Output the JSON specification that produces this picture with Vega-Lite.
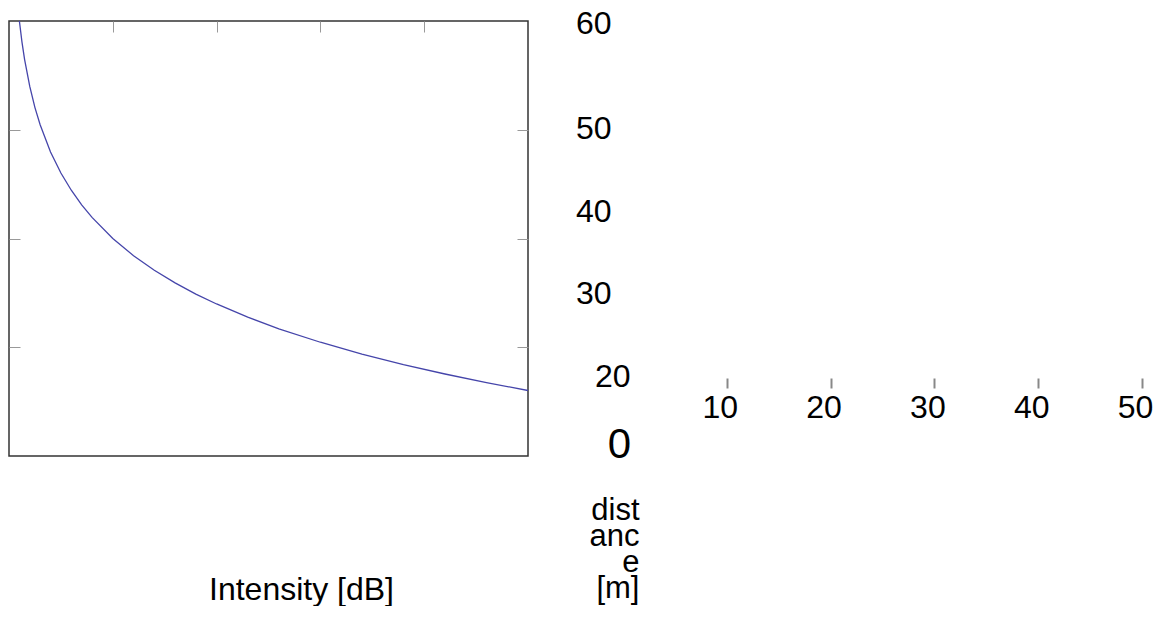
{
  "$schema": "https://vega.github.io/schema/vega-lite/v6.json",
  "padding": {"left": 7, "top": 7, "right": 0, "bottom": 0},
  "background": "white",
  "config": {
    "font": "Liberation Sans",
    "axis": {"labelFont": "Liberation Sans", "titleFont": "Liberation Sans", "grid": false, "titleFontWeight": "normal", "labelColor": "black", "titleColor": "black"}
  },
  "data": {"values": [
    {"distance": 1, "intensity": 60},
    {"distance": 1.25, "intensity": 58.06},
    {"distance": 1.5, "intensity": 56.48},
    {"distance": 2, "intensity": 53.98},
    {"distance": 2.5, "intensity": 52.04},
    {"distance": 3, "intensity": 50.46},
    {"distance": 4, "intensity": 47.96},
    {"distance": 5, "intensity": 46.02},
    {"distance": 6, "intensity": 44.44},
    {"distance": 7, "intensity": 43.1},
    {"distance": 8, "intensity": 41.94},
    {"distance": 10, "intensity": 40},
    {"distance": 12, "intensity": 38.42},
    {"distance": 14, "intensity": 37.08},
    {"distance": 16, "intensity": 35.92},
    {"distance": 18, "intensity": 34.89},
    {"distance": 20, "intensity": 33.98},
    {"distance": 23, "intensity": 32.77},
    {"distance": 26, "intensity": 31.7},
    {"distance": 30, "intensity": 30.46},
    {"distance": 34, "intensity": 29.37},
    {"distance": 38, "intensity": 28.4},
    {"distance": 42, "intensity": 27.54},
    {"distance": 46, "intensity": 26.75},
    {"distance": 50, "intensity": 26.02}
  ]},
  "bounds": "flush",
  "spacing": 95,
  "hconcat": [
    {
      "width": 519,
      "height": 435,
      "view": {"stroke": "#333333", "strokeWidth": 1.5},
      "resolve": {"axis": {"x": "independent", "y": "independent"}},
      "layer": [
        {
          "mark": {"type": "line", "color": "#4545aa", "strokeWidth": 1.3, "clip": true},
          "encoding": {
            "x": {"field": "distance", "type": "quantitative", "scale": {"domain": [0, 50], "nice": false},
              "axis": {"orient": "top", "values": [10, 20, 30, 40], "labels": false, "domain": false, "tickSize": -11, "tickColor": "#999999", "title": null}},
            "y": {"field": "intensity", "type": "quantitative", "scale": {"domain": [20, 60], "nice": false, "zero": false},
              "axis": {"orient": "left", "values": [30, 40, 50], "labels": false, "domain": false, "tickSize": -11, "tickColor": "#999999", "title": null}}
          }
        },
        {
          "mark": {"type": "line", "opacity": 0},
          "encoding": {
            "x": {"field": "distance", "type": "quantitative",
              "axis": {"orient": "bottom", "labels": false, "ticks": false, "domain": false, "title": "Intensity [dB]", "titleFontSize": 32, "titleAnchor": "start", "titleAlign": "center", "titleX": 292, "titleY": 143, "titleBaseline": "alphabetic"}},
            "y": {"field": "intensity", "type": "quantitative",
              "axis": {"orient": "right", "values": [30, 40, 50], "labels": false, "domain": false, "tickSize": -11, "tickColor": "#999999", "title": null}}
          }
        }
      ]
    },
    {
      "width": 519,
      "height": 397,
      "view": {"stroke": null},
      "mark": {"type": "line", "opacity": 0},
      "encoding": {
        "x": {"field": "distance", "type": "quantitative", "scale": {"domain": [0, 50], "nice": false},
          "axis": {
            "orient": "bottom", "offset": -30, "values": [0, 10, 20, 30, 40, 50], "domain": false,
            "tickSize": -10, "tickColor": "#888888", "tickWidth": 2,
            "tickOpacity": {"condition": {"test": "datum.value == 0", "value": 0}, "value": 1},
            "labelFontSize": {"condition": {"test": "datum.value == 0", "value": 42}, "value": 32},
            "labelPadding": {"condition": {"test": "datum.value == 0", "value": 46}, "value": 14},
            "labelOffset": {"condition": {"test": "datum.value == 0", "value": -4}, "value": -7},
            "labelFlush": false, "labelOverlap": false, "labelBound": false,
            "title": ["dist", "anc", "e", "[m]"], "titleFontSize": 31, "titleAlign": "right", "titleAnchor": "start",
            "titleX": 16, "titleY": 107, "titleBaseline": "top", "titleLineHeight": 26
          }},
        "y": {"field": "intensity", "type": "quantitative", "scale": {"domain": [15, 63], "nice": false, "zero": false},
          "axis": {
            "values": [20, 30, 40, 50, 60], "domain": false, "ticks": false, "title": null,
            "labelFontSize": 32, "labelFlush": false, "labelOverlap": false,
            "labelPadding": {"condition": {"test": "datum.value == 20", "value": -7}, "value": 12},
            "labelOffset": {"condition": {"test": "datum.value == 60", "value": -22}, "value": 0}
          }}
      }
    }
  ]
}
